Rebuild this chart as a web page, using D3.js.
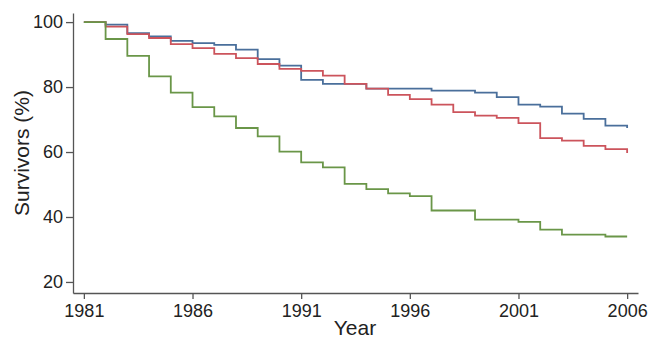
<!DOCTYPE html>
<html>
<head>
<meta charset="utf-8">
<script src="https://cdn.jsdelivr.net/npm/d3@7"></script>
<style>
  html, body { margin: 0; padding: 0; background: #fff; }
  svg { display: block; }
  text { font-family: "Liberation Sans", Arial, sans-serif; fill: #222; }
</style>
</head>
<body>
<svg id="chart" width="649" height="338"></svg>
<script>
// ---- data ----
const years = [1981,1982,1983,1984,1985,1986,1987,1988,1989,1990,1991,1992,1993,1994,1995,1996,1997,1998,1999,2000,2001,2002,2003,2004,2005,2006];
const blueValues  = [100,99.2,96.6,95.6,94.2,93.5,93.0,91.5,88.6,86.6,82.2,81.0,81.0,79.5,79.5,79.5,78.9,78.9,78.3,76.9,74.6,74.0,71.8,70.2,68.1,67.4];
const redValues   = [100,98.6,96.3,95.1,93.2,92.0,90.2,88.9,87.1,85.6,85.0,83.5,81.0,79.5,77.6,76.3,74.6,72.3,71.2,70.5,68.9,64.3,63.5,61.9,60.9,59.7];
const greenValues = [100,94.8,89.6,83.3,78.3,73.8,71.0,67.4,64.8,60.1,56.8,55.3,50.2,48.6,47.3,46.4,42.0,42.0,39.2,39.2,38.5,36.1,34.6,34.6,34.0,34.0];
const xTicks = [1981,1986,1991,1996,2001,2006];
const yTicks = [20,40,60,80,100];
const seriesNames = ["blue","red","green"];
const seriesColors = ["#4a6f9b","#cc545c","#6a9648"];

// ---- layout ----
const svg = d3.select("#chart");
const x = d3.scaleLinear().domain([1980.5, 2006.5]).range([73, 638]);
const y = d3.scaleLinear().domain([16.6, 102.8]).range([293, 13]);

const axisColor = "#555";

const gx = svg.append("g").attr("transform", "translate(0,293)")
  .call(d3.axisBottom(x).tickValues(xTicks).tickFormat(d3.format("d")).tickSize(6).tickSizeOuter(0).tickPadding(5));
const gy = svg.append("g").attr("transform", "translate(73,0)")
  .call(d3.axisLeft(y).tickValues(yTicks).tickSize(7).tickSizeOuter(0).tickPadding(3));

[gx, gy].forEach(g => {
  g.select(".domain").attr("stroke", axisColor).attr("stroke-width", 1.3);
  g.selectAll(".tick line").attr("stroke", axisColor).attr("stroke-width", 1.3);
  g.selectAll(".tick text").attr("font-size", 18).attr("fill", "#222")
    .attr("font-family", "'Liberation Sans', Arial, sans-serif");
});

svg.append("text").attr("x", 355).attr("y", 335).attr("text-anchor", "middle")
  .attr("font-size", 21).text("Year");
svg.append("text").attr("transform", "translate(29,153) rotate(-90)")
  .attr("text-anchor", "middle").attr("font-size", 21).text("Survivors (%)");

// ---- lines ----
const allSeries = [blueValues, redValues, greenValues];
const line = d3.line().x(d => x(d[0])).y(d => y(d[1])).curve(d3.curveStepAfter);
allSeries.forEach((vals, i) => {
  const pts = years.map((yr, j) => [yr, vals[j]]);
  svg.append("path").datum(pts)
    .attr("class", "series-" + seriesNames[i])
    .attr("fill", "none")
    .attr("stroke", seriesColors[i])
    .attr("stroke-width", 1.8)
    .attr("d", line);
});
</script>
</body>
</html>
